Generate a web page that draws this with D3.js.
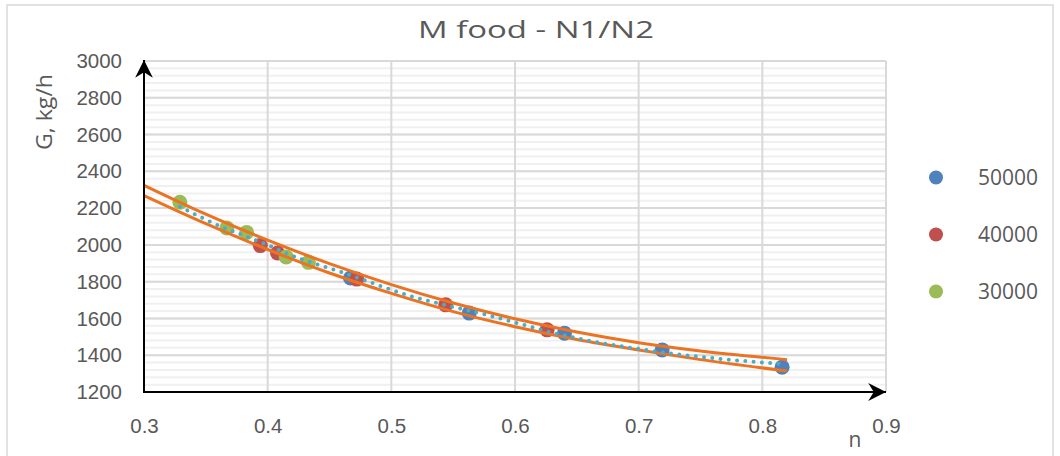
<!DOCTYPE html>
<html>
<head>
<meta charset="utf-8">
<script src="https://cdn.jsdelivr.net/npm/d3@7"></script>
<style>
  body { margin: 0; background: #fff; }
  svg { display: block; font-family: "Open Sans", sans-serif; }
</style>
</head>
<body>
<svg width="1060" height="456"></svg>
<script>
// scatter series
var seriesNames = ["50000", "40000", "30000"];
var seriesColors = ["#4F81BD", "#C0504D", "#9BBB59"];
var n50 = [0.467, 0.563, 0.640, 0.719, 0.816];
var g50 = [1820, 1629, 1520, 1429, 1335];
var n40 = [0.394, 0.408, 0.472, 0.544, 0.626];
var g40 = [1996, 1956, 1814, 1674, 1538];
var n30 = [0.329, 0.367, 0.383, 0.415, 0.433];
var g30 = [2232, 2092, 2068, 1934, 1905];

// orange band lines
var bandN = [0.30, 0.35, 0.40, 0.45, 0.50, 0.55, 0.60, 0.65, 0.70, 0.75, 0.82];
var upperG = [2324, 2167, 2026, 1898, 1784, 1684, 1598, 1526, 1468, 1423, 1376];
var lowerG = [2268, 2115, 1975, 1847, 1736, 1637, 1555, 1485, 1428, 1376, 1314];

// dotted trend line
var trendN = [0.329, 0.365, 0.391, 0.427, 0.458, 0.515, 0.579, 0.644, 0.725, 0.814];
var trendG = [2207, 2092, 2024, 1923, 1856, 1723, 1616, 1501, 1411, 1353];

var xTicks = [0.3, 0.4, 0.5, 0.6, 0.7, 0.8, 0.9];
var yTicks = [1200, 1400, 1600, 1800, 2000, 2200, 2400, 2600, 2800, 3000];
var yMinor = d3.range(1200, 3001, 40);

var textColor = "#595959";
var svg = d3.select("svg");

// chart border
svg.append("rect")
    .attr("x", 7).attr("y", 5).attr("width", 1046).attr("height", 480)
    .attr("fill", "none").attr("stroke", "#d9d9d9").attr("stroke-width", 1.5);

var x = d3.scaleLinear().domain([0.3, 0.9]).range([144, 886]);
var y = d3.scaleLinear().domain([1200, 3000]).range([392, 61]);

// minor horizontal grid
svg.append("g")
    .selectAll("line")
    .data(yMinor)
    .enter().append("line")
    .attr("x1", x(0.3)).attr("x2", x(0.9))
    .attr("y1", function(d) { return y(d); })
    .attr("y2", function(d) { return y(d); })
    .attr("stroke", "#f0f0f0").attr("stroke-width", 2);

// major grid
svg.append("g")
    .selectAll("line")
    .data(yTicks)
    .enter().append("line")
    .attr("x1", x(0.3)).attr("x2", x(0.9))
    .attr("y1", function(d) { return y(d); })
    .attr("y2", function(d) { return y(d); })
    .attr("stroke", "#d9d9d9").attr("stroke-width", 2);

svg.append("g")
    .selectAll("line")
    .data(xTicks.slice(1))
    .enter().append("line")
    .attr("y1", y(1200)).attr("y2", y(3000))
    .attr("x1", function(d) { return x(d); })
    .attr("x2", function(d) { return x(d); })
    .attr("stroke", "#d9d9d9").attr("stroke-width", 2);

// tick labels
var yAxis = svg.append("g")
    .attr("transform", "translate(" + x(0.3) + ",0)")
    .call(d3.axisLeft(y).tickValues(yTicks).tickSize(0).tickPadding(22).tickFormat(d3.format("d")));
var xAxis = svg.append("g")
    .attr("transform", "translate(0," + y(1200) + ")")
    .call(d3.axisBottom(x).tickValues(xTicks).tickSize(0).tickPadding(26).tickFormat(d3.format(".1f")));
[yAxis, xAxis].forEach(function(a) {
    a.select(".domain").remove();
    a.selectAll("text").attr("fill", textColor).style("font-size", "20.5px");
});

// markers
var allSeries = [[n50, g50], [n40, g40], [n30, g30]];
allSeries.forEach(function(s, k) {
    svg.append("g")
        .selectAll("circle")
        .data(s[0])
        .enter().append("circle")
        .attr("cx", function(d) { return x(d); })
        .attr("cy", function(d, i) { return y(s[1][i]); })
        .attr("r", 7.5)
        .attr("fill", seriesColors[k]);
});

// lines
var line = d3.line()
    .x(function(d) { return x(d[0]); })
    .y(function(d) { return y(d[1]); })
    .curve(d3.curveMonotoneX);

[upperG, lowerG].forEach(function(g) {
    svg.append("path")
        .attr("d", line(d3.zip(bandN, g)))
        .attr("fill", "none")
        .attr("stroke", "#EB7322")
        .attr("stroke-width", 3);
});

svg.append("path")
    .attr("d", line(d3.zip(trendN, trendG)))
    .attr("fill", "none")
    .attr("stroke", "#4BACC6")
    .attr("stroke-width", 4)
    .attr("stroke-linecap", "round")
    .attr("stroke-dasharray", "0 8.3");

// axes with arrows
svg.append("defs").append("marker")
    .attr("id", "arrow")
    .attr("markerUnits", "userSpaceOnUse")
    .attr("markerWidth", 20).attr("markerHeight", 20)
    .attr("viewBox", "-16 -9 17 18")
    .attr("refX", 0).attr("refY", 0)
    .attr("orient", "auto")
    .append("path")
    .attr("d", "M0,0 L-16,-8 L-11,0 L-16,8 Z")
    .attr("fill", "#000");

svg.append("line")
    .attr("x1", x(0.3)).attr("y1", y(1200))
    .attr("x2", x(0.3)).attr("y2", y(3000) - 1)
    .attr("stroke", "#000").attr("stroke-width", 2)
    .attr("marker-end", "url(#arrow)");
svg.append("line")
    .attr("x1", x(0.3) - 1).attr("y1", y(1200))
    .attr("x2", x(0.9)).attr("y2", y(1200))
    .attr("stroke", "#000").attr("stroke-width", 2)
    .attr("marker-end", "url(#arrow)");

// title and axis titles
svg.append("text")
    .attr("x", 536).attr("y", 38)
    .attr("text-anchor", "middle")
    .attr("textLength", 236).attr("lengthAdjust", "spacingAndGlyphs")
    .attr("fill", textColor).style("font-size", "23px")
    .text("M food - N1/N2");

svg.append("text")
    .attr("transform", "translate(52,112) rotate(-90)")
    .attr("text-anchor", "middle")
    .attr("textLength", 76).attr("lengthAdjust", "spacingAndGlyphs")
    .attr("fill", textColor).style("font-size", "21px")
    .text("G, kg/h");

svg.append("text")
    .attr("x", 855).attr("y", 447)
    .attr("text-anchor", "middle")
    .attr("fill", textColor).style("font-size", "21px")
    .text("n");

// legend
var legend = svg.append("g")
    .selectAll("g")
    .data(seriesNames)
    .enter().append("g")
    .attr("transform", function(d, i) { return "translate(936," + (177.5 + i * 57) + ")"; });
legend.append("circle")
    .attr("r", 7)
    .attr("fill", function(d, i) { return seriesColors[i]; });
legend.append("text")
    .attr("x", 42).attr("dy", "0.35em")
    .attr("fill", textColor).style("font-size", "21px")
    .text(function(d) { return d; });
</script>
</body>
</html>
